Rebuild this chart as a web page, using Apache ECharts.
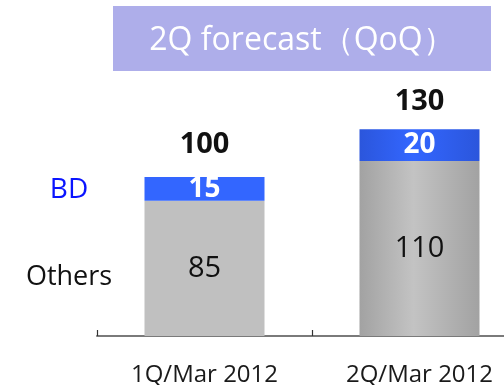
<!DOCTYPE html>
<html>
<head>
<meta charset="utf-8">
<script src="https://cdn.jsdelivr.net/npm/echarts@6/dist/echarts.min.js"></script>
<style>
  html, body { margin: 0; padding: 0; background: #ffffff; }
  #chart { width: 504px; height: 385px; }
</style>
</head>
<body>
<div id="chart"></div>
<script>
// Quarterly breakdown: BD on top of Others
const categories = ['1Q/Mar 2012', '2Q/Mar 2012'];
const othersValues = [85, 110];
const bdValues = [15, 20];
const totals = othersValues.map((v, i) => v + bdValues[i]);
const seriesNames = ['Others', 'BD'];
const titleText = '2Q forecast\uFF08QoQ\uFF09';

const FONT = '"Open Sans", "Noto Sans", sans-serif';

function hGradient(edge, mid) {
  return new echarts.graphic.LinearGradient(0, 0, 1, 0, [
    { offset: 0, color: edge },
    { offset: 0.45, color: mid },
    { offset: 1, color: edge }
  ]);
}

// first bar flat, forecast bar shaded
const othersStyles = [
  { color: '#c0c0c0' },
  { color: hGradient('#a2a2a2', '#c3c3c3') }
];
const bdStyles = [
  { color: '#3366ff' },
  { color: hGradient('#2b56dc', '#3366ff') }
];
const totalLabelGap = [18, 13];

const chart = echarts.init(document.getElementById('chart'), null, { renderer: 'canvas' });

chart.setOption({
  animation: false,
  backgroundColor: '#ffffff',
  // plot area runs past the right edge of the canvas
  grid: {
    left: 97, width: 430, top: 97.5, bottom: 49,
    containLabel: false,
    outerBoundsMode: 'none'
  },
  xAxis: {
    type: 'category',
    data: categories,
    boundaryGap: true,
    axisLine: { show: true, lineStyle: { color: '#7a7a7a', width: 2 } },
    axisTick: {
      show: true, inside: true, length: 6, interval: 0,
      lineStyle: { color: '#333333', width: 1.2 }
    },
    axisLabel: { color: '#1a1a1a', fontFamily: FONT, fontSize: 24, margin: 27 }
  },
  yAxis: {
    type: 'value',
    min: 0,
    max: 150,
    show: false,
    splitLine: { show: false }
  },
  series: [
    {
      name: seriesNames[0],
      type: 'bar',
      stack: 'total',
      barWidth: 120,
      data: othersValues.map((v, i) => ({ value: v, itemStyle: othersStyles[i] })),
      label: {
        show: true,
        position: 'inside',
        color: '#111111',
        fontFamily: FONT,
        fontSize: 29
      }
    },
    {
      name: seriesNames[1],
      type: 'bar',
      stack: 'total',
      barWidth: 120,
      data: bdValues.map((v, i) => ({ value: v, itemStyle: bdStyles[i] })),
      label: {
        show: true,
        position: 'inside',
        color: '#ffffff',
        fontFamily: FONT,
        fontWeight: 'bold',
        fontSize: 28
      }
    },
    {
      name: 'Total',
      type: 'bar',
      stack: 'total',
      barWidth: 120,
      silent: true,
      itemStyle: { color: 'rgba(0,0,0,0)' },
      data: totals.map((t, i) => ({
        value: 0,
        label: { distance: totalLabelGap[i] }
      })),
      label: {
        show: true,
        position: 'top',
        color: '#111111',
        fontFamily: FONT,
        fontWeight: 'bold',
        fontSize: 29,
        formatter: p => String(totals[p.dataIndex])
      }
    }
  ],
  graphic: [
    {
      type: 'group',
      left: 113,
      top: 6,
      children: [
        {
          type: 'rect',
          shape: { x: 0, y: 0, width: 378, height: 65 },
          style: { fill: '#aeaeea' }
        },
        {
          type: 'text',
          x: 189,
          y: 35,
          style: {
            text: titleText,
            fill: '#ffffff',
            fontFamily: FONT,
            fontSize: 32,
            textAlign: 'center',
            textVerticalAlign: 'middle'
          }
        }
      ]
    },
    {
      type: 'text',
      id: 'nameBD',
      x: 69,
      y: 190,
      style: {
        text: seriesNames[1],
        fill: '#0a14ff',
        fontFamily: FONT,
        fontSize: 28,
        textAlign: 'center',
        textVerticalAlign: 'middle'
      }
    },
    {
      type: 'text',
      id: 'nameOthers',
      x: 69,
      y: 277,
      style: {
        text: seriesNames[0],
        fill: '#111111',
        fontFamily: FONT,
        fontSize: 27,
        textAlign: 'center',
        textVerticalAlign: 'middle'
      }
    }
  ]
});
</script>
</body>
</html>
